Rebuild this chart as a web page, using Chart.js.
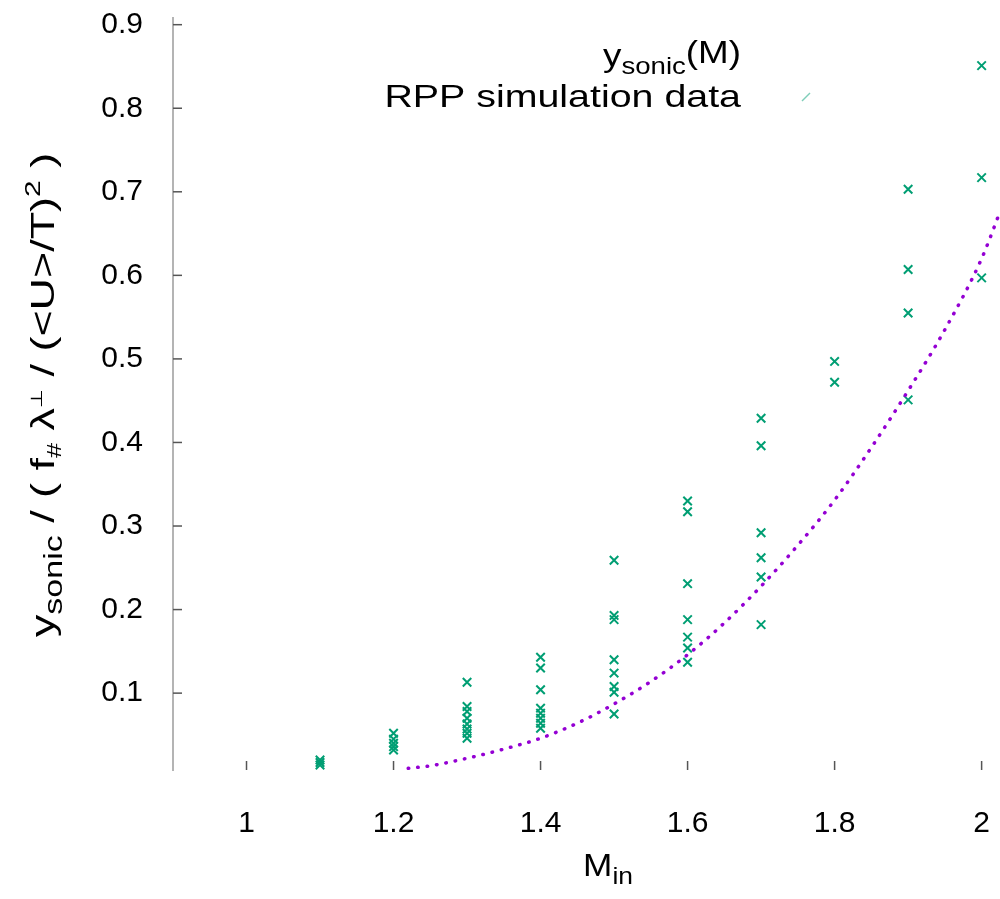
<!DOCTYPE html>
<html>
<head>
<meta charset="utf-8">
<script src="https://cdn.jsdelivr.net/npm/chart.js@4.4.1/dist/chart.umd.min.js"></script>
<style>
  html, body { margin: 0; padding: 0; background: #fff; }
  canvas { display: block; }
</style>
</head>
<body>
<canvas id="chart" width="1000" height="899"></canvas>
<script>
// model curve y_sonic(M)
const curveMach = [1.22, 1.25, 1.3, 1.35, 1.4, 1.45, 1.5, 1.55, 1.6, 1.65, 1.7, 1.75, 1.8, 1.85, 1.9, 1.95, 2.0, 2.025];
const curveYsonic = [0.010, 0.013, 0.022, 0.033, 0.046, 0.064, 0.087, 0.114, 0.146, 0.184, 0.228, 0.277, 0.331, 0.394, 0.462, 0.535, 0.620, 0.676];

// RPP simulation data, one column per Mach number
const simMach = [1.1, 1.2, 1.3, 1.4, 1.5, 1.6, 1.7, 1.8, 1.9, 2.0];
const simYsonic = [
    [0.020, 0.017, 0.014],
    [0.052, 0.045, 0.040, 0.036, 0.032],
    [0.113, 0.084, 0.078, 0.070, 0.063, 0.057, 0.052, 0.046],
    [0.143, 0.130, 0.104, 0.082, 0.076, 0.070, 0.064, 0.058],
    [0.259, 0.193, 0.188, 0.140, 0.124, 0.108, 0.101, 0.075],
    [0.330, 0.317, 0.231, 0.188, 0.167, 0.154, 0.137],
    [0.429, 0.396, 0.292, 0.262, 0.239, 0.182],
    [0.497, 0.472],
    [0.703, 0.607, 0.555, 0.451],
    [0.851, 0.717, 0.597]
];

const xTicks = [1, 1.2, 1.4, 1.6, 1.8, 2];
const yTicks = [0.1, 0.2, 0.3, 0.4, 0.5, 0.6, 0.7, 0.8, 0.9];

const FONT = "'Liberation Sans', Arial, sans-serif";

const curvePoints = curveMach.map((m, i) => ({ x: m, y: curveYsonic[i] }));
const simPoints = [];
simMach.forEach((m, i) => simYsonic[i].forEach(v => simPoints.push({ x: m, y: v })));

// draws text made of parts (normal / sub / superscript), stretched sideways by sx
function richWidth(ctx, parts, sx) {
    let w = 0;
    parts.forEach(p => { ctx.font = p.size + "px " + FONT; w += ctx.measureText(p.t).width; });
    return w * sx;
}
function drawRich(ctx, parts, x, y, align, sx) {
    const w = richWidth(ctx, parts, sx);
    const start = align === "right" ? x - w : align === "center" ? x - w / 2 : x;
    ctx.save();
    ctx.translate(start, y);
    ctx.scale(sx, 1);
    ctx.fillStyle = "#000";
    ctx.textBaseline = "alphabetic";
    ctx.textAlign = "left";
    let cx = 0;
    parts.forEach(p => {
        ctx.font = p.size + "px " + FONT;
        ctx.fillText(p.t, cx, p.dy || 0);
        cx += ctx.measureText(p.t).width;
    });
    ctx.restore();
}

const decorations = {
    id: "decorations",
    afterDraw(chart) {
        const { ctx, chartArea, scales } = chart;
        ctx.save();
        ctx.strokeStyle = "#555";
        ctx.lineWidth = 1.5;
        yTicks.forEach(v => {
            const py = scales.y.getPixelForValue(v);
            ctx.beginPath(); ctx.moveTo(chartArea.left, py); ctx.lineTo(chartArea.left + 9, py); ctx.stroke();
        });
        xTicks.forEach(v => {
            const px = scales.x.getPixelForValue(v);
            ctx.beginPath(); ctx.moveTo(px, chartArea.bottom); ctx.lineTo(px, chartArea.bottom - 9); ctx.stroke();
        });
        ctx.restore();

        // key
        drawRich(ctx, [
            { t: "y", size: 32 },
            { t: "sonic", size: 24, dy: 8 },
            { t: "(M)", size: 32, dy: -3 }
        ], 741, 66, "right", 1.15);
        drawRich(ctx, [{ t: "RPP simulation data", size: 32 }], 741, 107, "right", 1.23);
        ctx.save();
        ctx.strokeStyle = "rgba(0,158,115,0.5)";
        ctx.lineWidth = 1.5;
        ctx.beginPath();
        ctx.moveTo(802, 101); ctx.lineTo(810, 93);
        ctx.stroke();
        ctx.restore();

        // x title
        drawRich(ctx, [
            { t: "M", size: 32 },
            { t: "in", size: 24, dy: 8 }
        ], 608, 876, "center", 1.1);

        // y title, rotated
        ctx.save();
        ctx.translate(54, 395);
        ctx.rotate(-Math.PI / 2);
        drawRich(ctx, [
            { t: "y", size: 33 },
            { t: "sonic", size: 25, dy: 8 },
            { t: " / ( f", size: 33 },
            { t: "#", size: 20, dy: 7 },
            { t: " \u03bb", size: 33 },
            { t: "\u22a5", size: 16, dy: -12 },
            { t: " / (<U>/T)", size: 33 },
            { t: "2", size: 22, dy: -14 },
            { t: " )", size: 33 }
        ], 0, 0, "center", 1.36);
        ctx.restore();
    }
};

new Chart(document.getElementById("chart").getContext("2d"), {
    type: "scatter",
    data: {
        datasets: [
            {
                label: "ysonic(M)",
                data: curvePoints,
                showLine: true,
                borderColor: "#9400d3",
                borderWidth: 3.5,
                borderDash: [0.5, 9],
                borderCapStyle: "round",
                cubicInterpolationMode: "monotone",
                pointRadius: 0,
                fill: false
            },
            {
                label: "RPP simulation data",
                data: simPoints,
                pointStyle: "crossRot",
                pointRadius: 6,
                borderWidth: 2,
                borderColor: "#009e73",
                backgroundColor: "#009e73"
            }
        ]
    },
    options: {
        responsive: false,
        animation: false,
        devicePixelRatio: 1,
        layout: { autoPadding: false, padding: { top: 18, right: 0, left: 0, bottom: 0 } },
        plugins: { legend: { display: false }, tooltip: { enabled: false } },
        scales: {
            x: {
                type: "linear",
                min: 0.9,
                max: 2.025,
                grid: { display: false },
                border: { display: false },
                afterBuildTicks: s => { s.ticks = xTicks.map(v => ({ value: v })); },
                afterFit: s => { s.height = 129; s.paddingLeft = 0; s.paddingRight = 0; },
                ticks: {
                    color: "#000",
                    padding: 28,
                    maxRotation: 0,
                    font: { family: FONT, size: 30 },
                    callback: v => String(v)
                }
            },
            y: {
                type: "linear",
                min: 0.008,
                max: 0.908,
                grid: { display: false },
                border: { display: true, color: "#b4b4b4", width: 2 },
                afterBuildTicks: s => { s.ticks = yTicks.map(v => ({ value: v })); },
                afterFit: s => { s.width = 173; s.paddingTop = 0; s.paddingBottom = 0; },
                ticks: {
                    color: "#000",
                    padding: 22,
                    font: { family: FONT, size: 30 },
                    callback: v => v.toFixed(1)
                }
            }
        }
    },
    plugins: [decorations]
});
</script>
</body>
</html>
